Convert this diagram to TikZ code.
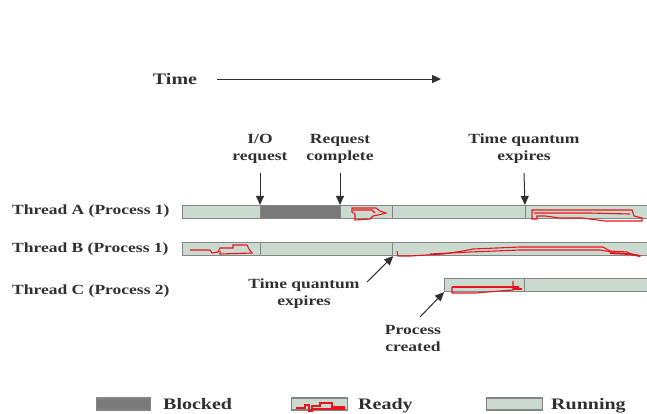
\documentclass[tikz,border=0pt]{standalone}
\usepackage{fontspec}
\setmainfont{Liberation Serif}[FakeStretch=1.25]
\usetikzlibrary{arrows.meta}
\definecolor{runfill}{HTML}{CBDACF}
\definecolor{blockfill}{HTML}{7A7A7A}
\definecolor{barline}{HTML}{858585}
\definecolor{txt}{HTML}{303030}
\definecolor{readyred}{HTML}{E8141C}
\tikzset{
 seg/.style={draw=barline, line width=1.2pt, inner sep=0, minimum height=13pt, anchor=west, rectangle},
 running/.style={seg, fill=runfill},
 ready/.style={seg, fill=runfill},
 blocked/.style={seg, fill=blockfill},
 lbl/.style={text=txt, font=\fontsize{14}{17}\selectfont\bfseries, align=center, inner sep=0},
 leg/.style={text=txt, font=\fontsize{16}{19}\selectfont\bfseries, inner sep=0, anchor=base west},
 arr/.style={draw=txt, line width=1pt, -{Triangle[length=9pt,width=8pt]}},
 scrib/.style={draw=readyred, line width=1.1pt, line join=miter}
}
\begin{document}
\begin{tikzpicture}[x=1pt,y=-1pt]
\clip (0,0) rectangle (647,413);
\useasboundingbox (0,0) rectangle (647,413);

% time axis
\node[lbl, font=\fontsize{16}{19}\selectfont\bfseries] (time) at (175,79) {Time};
\coordinate (tend) at (441,79);
\draw[arr] ([xshift=20pt]time.east) -- (tend);

% thread labels
\node[lbl, anchor=west] (ta) at (12,211) {Thread A (Process 1)};
\node[lbl, anchor=west] (tb) at (12,249) {Thread B (Process 1)};
\node[lbl, anchor=west] (tc) at (12,291) {Thread C (Process 2)};

% thread A
\node[running, minimum width=78pt] (a1) at (182,212) {};
\node[blocked, minimum width=80pt] (a2) at (260,212) {};
\node[ready,   minimum width=52pt] (a3) at (340,212) {};
\node[running, minimum width=133pt] (a4) at (392,212) {};
\node[ready,   minimum width=130pt] (a5) at (525,212) {};
% thread B
\node[ready,   minimum width=78pt] (b1) at (182,249) {};
\node[running, minimum width=132pt] (b2) at (260,249) {};
\node[ready,   minimum width=260pt] (b3) at (392,249) {};
% thread C
\node[ready,   minimum width=80pt] (c1) at (444,285) {};
\node[running, minimum width=130pt] (c2) at (524,285) {};

% ready scribbles
\draw[scrib] (352,208) -- (376,208) -- (380,211) -- (386,213) -- (378,215) -- (373,216) -- (370,219) -- (355,220) -- (355,214) -- (352,212) -- cycle;
\draw[scrib] (353,210) -- (372,210) -- (375,213);
\draw[scrib] (532,219) -- (532,210) -- (632,210) -- (634,216) -- (642,218) -- (642,221) -- (605,221) -- (582,218) -- (560,218) -- (545,216) -- (537,216) -- (537,219) -- cycle;
\draw[scrib] (534,213) -- (590,213) -- (630,214);
\draw[scrib] (190,250) -- (210,250) -- (212,253) -- (218,252) -- (220,248) -- (233,248) -- (233,245) -- (247,245) -- (249,249) -- (252,253) -- (220,254) -- (220,251);
\draw[scrib] (397,251) -- (398,256) -- (410,256) -- (443,254) -- (463,251) -- (473,249) -- (520,247) -- (603,247) -- (610,251) -- (627,252) -- (633,255) -- (641,256);
\draw[scrib] (430,254) -- (470,252) -- (520,250) -- (600,250) -- (612,252);
\draw[scrib, line width=2pt] (610,253) -- (630,254) -- (640,256);
\draw[scrib] (452,287) -- (452,293) -- (475,293) -- (500,291) -- (513,290) -- (513,281);
\draw[scrib] (452,287) -- (519,287);
\draw[scrib] (513,289) -- (522,289);

% top event labels and arrows
\node[lbl] (io) at (260,149) {I/O\\request};
\node[lbl] (rc) at (340,149) {Request\\complete};
\node[lbl] (tq) at (524,149) {Time quantum\\expires};
\draw[arr] ([yshift=-9pt]io.south) -- (a2.north west);
\draw[arr] ([yshift=-9pt]rc.south) -- (a3.north west);
\draw[arr] ([yshift=-9pt]tq.south) -- (a5.north west);

% lower event labels and arrows
\node[lbl] (tq2) at (304,294) {Time quantum\\expires};
\node[lbl] (pc) at (413,338) {Process\\created};
\coordinate (t2) at (367,282);
\coordinate (p2) at (420,317);
\draw[arr] (t2) -- (b2.south east);
\draw[arr] (p2) -- (c1.south west);

% legend
\node[blocked, minimum width=54pt, minimum height=12pt] (lb) at (96,404) {};
\node[ready,   minimum width=56pt, minimum height=12pt] (lr) at (291,404) {};
\node[running, minimum width=56pt, minimum height=12pt] (lu) at (486,404) {};
\draw[scrib] (296,408) -- (305,408) -- (305,405) -- (309,405) -- (309,411) -- (312,411) -- (312,406) -- (320,406) -- (320,403) -- (332,403) -- (332,407) -- (345,407);
\draw[scrib, line width=2pt] (312,409) -- (345,409);
\node[leg] (lbt) at (163,409.5) {Blocked};
\node[leg] (lrt) at (358,409.5) {Ready};
\node[leg] (lut) at (551,409.5) {Running};
\end{tikzpicture}
\end{document}
